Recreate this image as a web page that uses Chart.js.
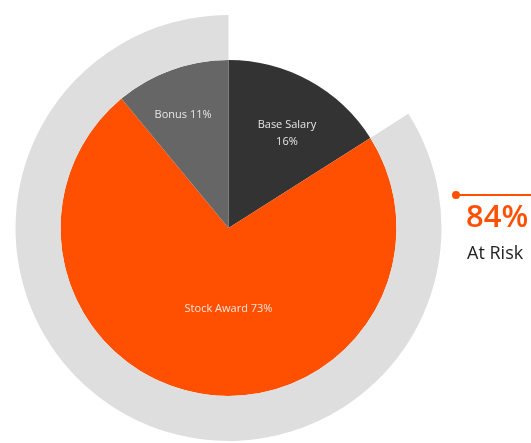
<!DOCTYPE html>
<html>
<head>
<meta charset="utf-8">
<script src="https://cdn.jsdelivr.net/npm/chart.js@4"></script>
<style>
  html, body { margin: 0; padding: 0; background: #fff; }
  #wrap { width: 531px; height: 443px; }
</style>
</head>
<body>
<div id="wrap"><canvas id="pay"></canvas></div>
<script>
// slices, clockwise from 12 o'clock
const labels = ['Base Salary', 'Stock Award', 'Bonus'];
const values = [16, 73, 11];
const colors = ['#333333', '#FE5000', '#666666'];

// outer ring: fixed vs at risk
const riskLabels = ['Fixed', 'At Risk'];
const riskValues = [16, 84];

// text inside each slice (lines)
const sliceText = [['Base Salary', '16%'], ['Stock Award 73%'], ['Bonus 11%']];
const sliceRadius = [0.66, 0.48, 0.725]; // where the label sits, fraction of radius
const sliceTurn = [3, 0, -2.1];           // degrees nudged off the slice middle

const sliceLabels = {
    id: 'sliceLabels',
    afterDatasetsDraw(chart) {
        const ctx = chart.ctx;
        const meta = chart.getDatasetMeta(1);
        ctx.save();
        ctx.font = '11px "Open Sans"';
        ctx.textAlign = 'center';
        ctx.textBaseline = 'middle';
        meta.data.forEach((arc, i) => {
            const p = arc.getProps(['x', 'y', 'startAngle', 'endAngle', 'outerRadius'], true);
            let mid = (p.startAngle + p.endAngle) / 2 + sliceTurn[i] * Math.PI / 180;
            if (i === 1) mid = Math.PI / 2; // stock award label sits straight below centre
            const r = p.outerRadius * sliceRadius[i];
            const x = p.x + Math.cos(mid) * r;
            const y = p.y + Math.sin(mid) * r;
            const lines = sliceText[i];
            ctx.fillStyle = i === 1 ? '#FBE3D6' : '#E6E6E6';
            lines.forEach((t, k) => {
                ctx.fillText(t, x, y + (k - (lines.length - 1) / 2) * 17);
            });
        });

        // at risk callout
        ctx.fillStyle = '#FE5000';
        ctx.strokeStyle = '#FE5000';
        ctx.lineWidth = 2;
        ctx.beginPath();
        ctx.moveTo(456, 195);
        ctx.lineTo(531, 195);
        ctx.stroke();
        ctx.beginPath();
        ctx.arc(456, 195, 4, 0, Math.PI * 2);
        ctx.fill();
        ctx.textAlign = 'left';
        ctx.textBaseline = 'alphabetic';
        ctx.font = '600 31px "Open Sans"';
        ctx.fillText(riskValues[1] + '%', 466, 227);
        ctx.fillStyle = '#222222';
        ctx.font = '18px "Open Sans"';
        ctx.fillText(riskLabels[1], 467, 259);
        ctx.restore();
    }
};

const config = {
    type: 'doughnut',
    data: {
        labels: labels,
        datasets: [{
            label: 'Risk',
            data: riskValues,
            backgroundColor: ['rgba(0,0,0,0)', '#DEDEDE'],
            borderWidth: 0,
            weight: 1
        }, {
            label: 'Pay mix',
            data: values,
            backgroundColor: colors,
            borderWidth: 0,
            weight: 168 / 45
        }]
    },
    options: {
        responsive: true,
        maintainAspectRatio: false,
        animation: false,
        cutout: 0,
        layout: { padding: { left: 15, right: 89, top: 15, bottom: 2 } },
        plugins: {
            legend: { display: false },
            tooltip: { enabled: false }
        }
    },
    plugins: [sliceLabels]
};

const chart = new Chart(document.getElementById('pay'), config);
</script>
</body>
</html>
